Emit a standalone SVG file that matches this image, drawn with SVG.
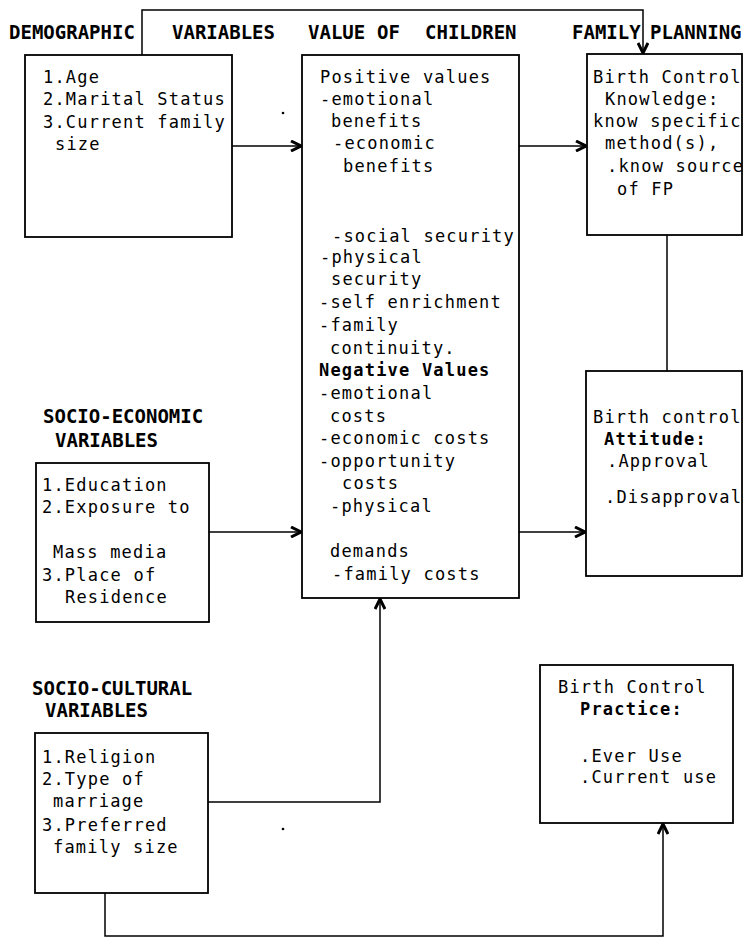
<svg xmlns="http://www.w3.org/2000/svg" width="745" height="938" viewBox="0 0 745 938">
<style>
.bg{fill:#fff}
.box{fill:none;stroke:#000;stroke-width:1.8}
.ln{fill:none;stroke:#000;stroke-width:1.5}
.t{font-family:"DejaVu Sans Mono","Liberation Mono",monospace;font-size:17px;letter-spacing:1.2px;fill:#000}
.tb{font-family:"DejaVu Sans Mono","Liberation Mono",monospace;font-size:17px;letter-spacing:1.2px;font-weight:bold;fill:#000}
.h{font-family:"DejaVu Sans Mono","Liberation Mono",monospace;font-size:19px;font-weight:bold;fill:#000}
</style>
<defs>
<marker id="ah" viewBox="0 0 12 12" refX="11" refY="6" markerWidth="12" markerHeight="12" markerUnits="userSpaceOnUse" orient="auto">
<path d="M1,1 L11,6 L1,11" fill="none" stroke="#000" stroke-width="3" stroke-linejoin="miter"/>
</marker>
</defs>
<rect class="bg" x="0" y="0" width="745" height="938"/>

<g id="headers">
<text class="h" x="9" y="39">DEMOGRAPHIC</text>
<text class="h" x="172" y="39">VARIABLES</text>
<text class="h" x="308" y="39">VALUE</text>
<text class="h" x="377" y="39">OF</text>
<text class="h" x="425" y="39">CHILDREN</text>
<text class="h" x="572" y="39">FAMILY</text>
<text class="h" x="650" y="39">PLANNING</text>
<text class="h" x="43" y="423">SOCIO-ECONOMIC</text>
<text class="h" x="55" y="447">VARIABLES</text>
<text class="h" x="32" y="695">SOCIO-CULTURAL</text>
<text class="h" x="45" y="717">VARIABLES</text>
</g>

<g id="connectors">
<polyline class="ln" points="142,55 142,10 643,10 643,53" marker-end="url(#ah)"/>
<line class="ln" x1="232" y1="146" x2="301" y2="146" marker-end="url(#ah)"/>
<line class="ln" x1="519" y1="146" x2="586" y2="146" marker-end="url(#ah)"/>
<line class="ln" x1="667" y1="235" x2="667" y2="371"/>
<line class="ln" x1="209" y1="532" x2="301" y2="532" marker-end="url(#ah)"/>
<line class="ln" x1="519" y1="532" x2="585" y2="532" marker-end="url(#ah)"/>
<polyline class="ln" points="208,802 380,802 380,599" marker-end="url(#ah)"/>
<polyline class="ln" points="105,893 105,936 663,936 663,824" marker-end="url(#ah)"/>
</g>

<g id="demographic">
<rect class="box" x="25" y="55" width="207" height="182"/>
<text class="t" x="43" y="83">1.Age</text>
<text class="t" x="43" y="105">2.Marital Status</text>
<text class="t" x="43" y="128">3.Current family</text>
<text class="t" x="55" y="150">size</text>
</g>

<g id="value-of-children">
<rect class="box" x="302" y="55" width="217" height="543"/>
<text class="t" x="320" y="83">Positive values</text>
<text class="t" x="320" y="105">-emotional</text>
<text class="t" x="331" y="127">benefits</text>
<text class="t" x="333" y="149">-economic</text>
<text class="t" x="343" y="172">benefits</text>
<text class="t" x="332" y="242">-social security</text>
<text class="t" x="320" y="263">-physical</text>
<text class="t" x="331" y="285">security</text>
<text class="t" x="319" y="308">-self enrichment</text>
<text class="t" x="319" y="331">-family</text>
<text class="t" x="330" y="354">continuity.</text>
<text class="tb" x="319" y="376">Negative Values</text>
<text class="t" x="319" y="399">-emotional</text>
<text class="t" x="330" y="422">costs</text>
<text class="t" x="319" y="444">-economic costs</text>
<text class="t" x="319" y="467">-opportunity</text>
<text class="t" x="342" y="489">costs</text>
<text class="t" x="330" y="512">-physical</text>
<text class="t" x="330" y="557">demands</text>
<text class="t" x="332" y="580">-family costs</text>
</g>

<g id="knowledge">
<rect class="box" x="587" y="54" width="155" height="181"/>
<text class="t" x="593" y="83">Birth Control</text>
<text class="t" x="605" y="105">Knowledge:</text>
<text class="t" x="593" y="127">know specific</text>
<text class="t" x="605" y="149">method(s),</text>
<text class="t" x="607" y="172">.know source</text>
<text class="t" x="617" y="195">of FP</text>
</g>

<g id="attitude">
<rect class="box" x="586" y="371" width="156" height="205"/>
<text class="t" x="593" y="423">Birth control</text>
<text class="tb" x="604" y="445">Attitude:</text>
<text class="t" x="607" y="467">.Approval</text>
<text class="t" x="605" y="503">.Disapproval</text>
</g>

<g id="socio-economic">
<rect class="box" x="36" y="463" width="173" height="159"/>
<text class="t" x="42" y="491">1.Education</text>
<text class="t" x="42" y="513">2.Exposure to</text>
<text class="t" x="53" y="558">Mass media</text>
<text class="t" x="42" y="581">3.Place of</text>
<text class="t" x="65" y="603">Residence</text>
</g>

<g id="socio-cultural">
<rect class="box" x="35" y="733" width="173" height="160"/>
<text class="t" x="42" y="763">1.Religion</text>
<text class="t" x="42" y="785">2.Type of</text>
<text class="t" x="53" y="807">marriage</text>
<text class="t" x="42" y="831">3.Preferred</text>
<text class="t" x="53" y="853">family size</text>
</g>

<g id="practice">
<rect class="box" x="540" y="665" width="193" height="158"/>
<text class="t" x="558" y="693">Birth Control</text>
<text class="tb" x="580" y="715">Practice:</text>
<text class="t" x="580" y="762">.Ever Use</text>
<text class="t" x="580" y="783">.Current use</text>
</g>

<g id="specks">
<circle cx="283" cy="113" r="1.3" fill="#000"/>
<circle cx="283" cy="829" r="1.3" fill="#000"/>
</g>
</svg>
